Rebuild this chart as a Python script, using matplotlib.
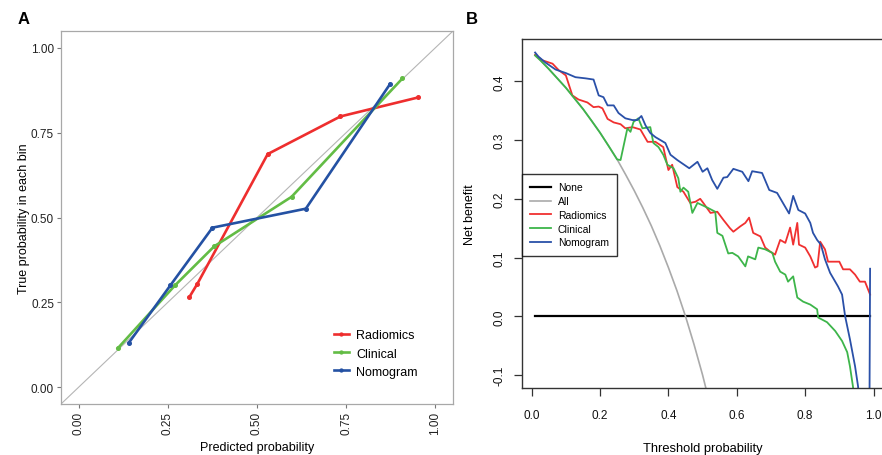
import numpy as np
import matplotlib
matplotlib.use("Agg")
import matplotlib.pyplot as plt

plt.rcParams['font.family'] = ['Liberation Sans', 'DejaVu Sans']

# ---- panel A: calibration curves ----
rad_pred = [0.31, 0.333, 0.53, 0.734, 0.952]
rad_true = [0.265, 0.305, 0.687, 0.798, 0.854]
cli_pred = [0.109, 0.27, 0.38, 0.597, 0.908]
cli_true = [0.114, 0.30, 0.415, 0.561, 0.91]
nom_pred = [0.14, 0.257, 0.375, 0.637, 0.873]
nom_true = [0.13, 0.30, 0.47, 0.526, 0.893]

# ---- panel B: decision curves ----
all_thr = [0.01, 0.025, 0.05, 0.075, 0.10, 0.125, 0.15, 0.175, 0.20, 0.225, 0.25,
           0.275, 0.30, 0.325, 0.35, 0.375, 0.40, 0.425, 0.45, 0.475, 0.50, 0.525]
all_nb = [0.444, 0.436, 0.421, 0.405, 0.389, 0.371, 0.353, 0.333, 0.3125, 0.290, 0.267,
          0.241, 0.214, 0.185, 0.154, 0.120, 0.083, 0.0435, 0.0, -0.048, -0.10, -0.158]

none_thr = [0.01, 0.99]
none_nb = [0.0, 0.0]

rad_thr = [0.01, 0.03, 0.061, 0.079, 0.10, 0.119, 0.137, 0.163, 0.181, 0.196, 0.207, 0.222,
           0.24, 0.26, 0.274, 0.295, 0.318, 0.339, 0.362, 0.385, 0.40, 0.411, 0.426, 0.444,
           0.464, 0.479, 0.493, 0.502, 0.523, 0.543, 0.561, 0.58, 0.59, 0.61, 0.625, 0.636,
           0.648, 0.669, 0.683, 0.698, 0.712, 0.727, 0.742, 0.756, 0.765, 0.777, 0.782, 0.80,
           0.815, 0.829, 0.836, 0.844, 0.858, 0.867, 0.888, 0.90, 0.911, 0.931, 0.946, 0.96,
           0.975, 0.99]
rad_nb = [0.445, 0.436, 0.43, 0.419, 0.41, 0.376, 0.369, 0.364, 0.356, 0.357, 0.354, 0.336,
          0.33, 0.327, 0.32, 0.322, 0.318, 0.297, 0.297, 0.288, 0.249, 0.258, 0.22, 0.212,
          0.193, 0.195, 0.2, 0.193, 0.176, 0.178, 0.164, 0.15, 0.144, 0.153, 0.159, 0.168,
          0.142, 0.136, 0.117, 0.11, 0.105, 0.13, 0.125, 0.151, 0.122, 0.159, 0.122, 0.117,
          0.102, 0.083, 0.085, 0.127, 0.114, 0.093, 0.093, 0.093, 0.08, 0.08, 0.071, 0.059,
          0.059, 0.037]

cli_thr = [0.01, 0.025, 0.05, 0.075, 0.10, 0.125, 0.15, 0.175, 0.20, 0.225, 0.25, 0.26,
           0.28, 0.289, 0.298, 0.312, 0.324, 0.347, 0.356, 0.371, 0.385, 0.397, 0.415, 0.429,
           0.435, 0.444, 0.458, 0.47, 0.485, 0.514, 0.537, 0.543, 0.558, 0.575, 0.587, 0.604,
           0.625, 0.633, 0.654, 0.663, 0.683, 0.704, 0.712, 0.727, 0.742, 0.75, 0.765, 0.777,
           0.794, 0.815, 0.835, 0.838, 0.864, 0.888, 0.908, 0.923, 0.931, 0.94, 0.96]
cli_nb = [0.444, 0.436, 0.421, 0.405, 0.389, 0.371, 0.353, 0.333, 0.3125, 0.290, 0.267, 0.266,
          0.32, 0.314, 0.331, 0.337, 0.32, 0.322, 0.295, 0.288, 0.275, 0.258, 0.252, 0.235,
          0.212, 0.219, 0.212, 0.176, 0.193, 0.185, 0.178, 0.142, 0.137, 0.107, 0.108, 0.102,
          0.085, 0.102, 0.097, 0.117, 0.114, 0.108, 0.093, 0.076, 0.071, 0.059, 0.068, 0.032,
          0.025, 0.02, 0.012, -0.002, -0.01, -0.025, -0.042, -0.061, -0.085, -0.12, -0.25]

nom_thr = [0.01, 0.02, 0.04, 0.07, 0.10, 0.128, 0.158, 0.181, 0.196, 0.21, 0.222, 0.24,
           0.254, 0.274, 0.295, 0.309, 0.321, 0.333, 0.347, 0.362, 0.391, 0.406, 0.426, 0.461,
           0.485, 0.50, 0.514, 0.528, 0.543, 0.561, 0.572, 0.59, 0.616, 0.634, 0.645, 0.674,
           0.695, 0.718, 0.733, 0.753, 0.765, 0.78, 0.80, 0.815, 0.823, 0.835, 0.846, 0.858,
           0.873, 0.896, 0.908, 0.917, 0.931, 0.946, 0.955, 0.97, 0.98, 0.99]
nom_nb = [0.449, 0.442, 0.432, 0.42, 0.414, 0.407, 0.405, 0.403, 0.376, 0.373, 0.359, 0.359,
          0.346, 0.337, 0.334, 0.334, 0.341, 0.325, 0.312, 0.305, 0.295, 0.275, 0.266, 0.252,
          0.263, 0.246, 0.252, 0.232, 0.217, 0.236, 0.237, 0.251, 0.246, 0.23, 0.247, 0.244,
          0.215, 0.21, 0.195, 0.175, 0.205, 0.181, 0.175, 0.159, 0.142, 0.13, 0.122, 0.097,
          0.074, 0.051, 0.037, 0.0, -0.039, -0.085, -0.12, -0.4, -1.2, 0.081]

RED_A, GREEN_A, BLUE_A = "#EE2E2E", "#63BC45", "#2451A3"
RED_B, GREEN_B, BLUE_B = "#F03030", "#3DB54A", "#2A50A8"

fig = plt.figure(figsize=(8.82, 4.56), dpi=100)

# ---------------- A ----------------
axA = fig.add_axes([61 / 882, 1 - 405 / 456, 392 / 882, 373 / 456])
axA.plot([-0.05, 1.05], [-0.05, 1.05], color="#B5B5B5", lw=0.8, zorder=1)
for xp, yt, c, lab in [(rad_pred, rad_true, RED_A, "Radiomics"),
                       (cli_pred, cli_true, GREEN_A, "Clinical"),
                       (nom_pred, nom_true, BLUE_A, "Nomogram")]:
    axA.plot(xp, yt, color=c, lw=1.9, marker="o", ms=2.6, label=lab, zorder=3)
axA.set_xlim(-0.05, 1.05)
axA.set_ylim(-0.05, 1.05)
ticks = [0.0, 0.25, 0.5, 0.75, 1.0]
axA.set_xticks(ticks)
axA.set_yticks(ticks)
axA.set_xticklabels(["0.00", "0.25", "0.50", "0.75", "1.00"], rotation=90, fontsize=8.5)
axA.set_yticklabels(["0.00", "0.25", "0.50", "0.75", "1.00"], fontsize=8.5)
for s in axA.spines.values():
    s.set_color("#A8A8A8")
    s.set_linewidth(0.9)
axA.tick_params(colors="#777777", labelcolor="#222222", length=3, width=0.8, pad=2)
axA.set_xlabel("Predicted probability", fontsize=9, labelpad=5)
axA.set_ylabel("True probability in each bin", fontsize=9, labelpad=1)
axA.legend(loc="lower left", bbox_to_anchor=(0.667, 0.04), frameon=False, fontsize=9,
           handlelength=1.2, handletextpad=0.6, labelspacing=0.5, markerscale=0.8)
fig.text(18 / 882, 1 - 20 / 456, "A", fontsize=12, fontweight="bold", va="center")

# ---------------- B ----------------
axB = fig.add_axes([521.7 / 882, 1 - 389 / 456, 361.8 / 882, 349 / 456])
axB.plot(none_thr, none_nb, color="black", lw=1.6, label="None")
axB.plot(all_thr, all_nb, color="#AAAAAA", lw=1.2, label="All")
axB.plot(rad_thr, rad_nb, color=RED_B, lw=1.3, label="Radiomics")
axB.plot(cli_thr, cli_nb, color=GREEN_B, lw=1.3, label="Clinical")
axB.plot(nom_thr, nom_nb, color=BLUE_B, lw=1.3, label="Nomogram")
axB.set_xlim(-0.0292, 1.0292)
axB.set_ylim(-0.122, 0.472)
axB.set_xticks([0.0, 0.2, 0.4, 0.6, 0.8, 1.0])
axB.set_xticklabels(["0.0", "0.2", "0.4", "0.6", "0.8", "1.0"], fontsize=8.5)
axB.set_yticks([-0.1, 0.0, 0.1, 0.2, 0.3, 0.4])
axB.set_yticklabels(["-0.1", "0.0", "0.1", "0.2", "0.3", "0.4"], fontsize=8.5,
                    rotation=90, va="center")
for s in axB.spines.values():
    s.set_color("#333333")
    s.set_linewidth(1.0)
axB.tick_params(colors="#333333", labelcolor="#111111", length=6, width=0.9, pad=6)
axB.tick_params(axis="x", pad=9)
axB.set_xlabel("Threshold probability", fontsize=9.3, labelpad=15)
axB.set_ylabel("Net benefit", fontsize=9, labelpad=12)
legB = axB.legend(loc="upper left", bbox_to_anchor=(0.0, 0.613), fontsize=7.5,
                  frameon=True, fancybox=False, edgecolor="black", borderaxespad=0,
                  handlelength=2.0, handletextpad=0.65, labelspacing=0.36, borderpad=0.8)
legB.get_frame().set_linewidth(1.0)
fig.text(466 / 882, 1 - 19 / 456, "B", fontsize=12, fontweight="bold", va="center")

fig.savefig("out.png", dpi=100)
